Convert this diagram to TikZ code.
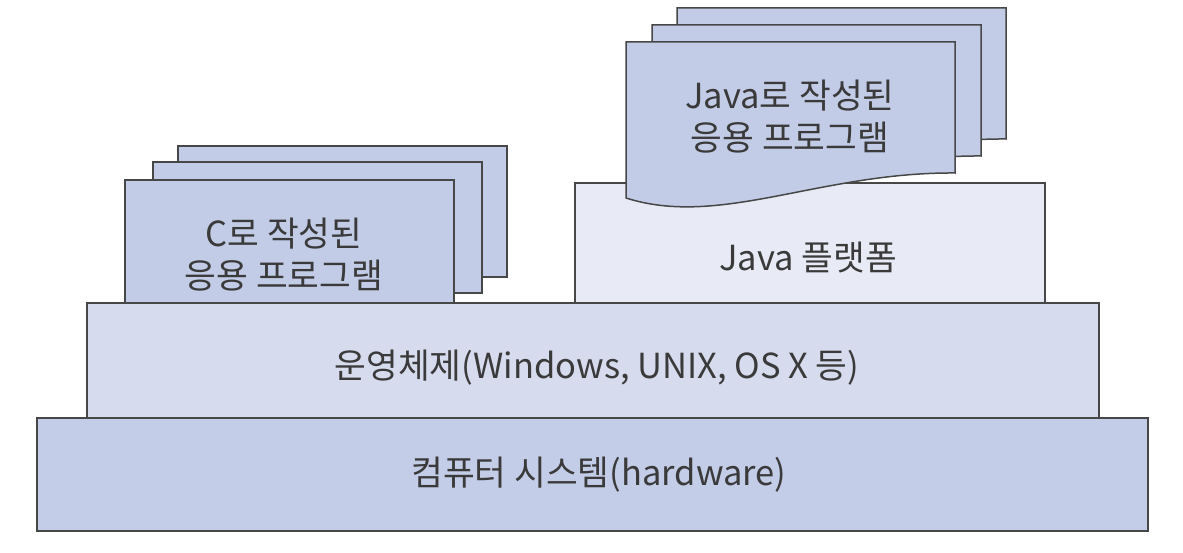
\documentclass[tikz,border=0pt]{standalone}
\usepackage{fontspec}
\setmainfont{Noto Sans CJK KR}
\definecolor{pagefill}{HTML}{C2CCE7}
\definecolor{hwfill}{HTML}{C3CDE8}
\definecolor{osfill}{HTML}{D6DBEE}
\definecolor{jvfill}{HTML}{E8EAF5}
\definecolor{edge}{HTML}{474747}
\definecolor{ink}{HTML}{3A3A3A}
\begin{document}
\begin{tikzpicture}[x=1pt,y=-1pt,line width=2.2pt,
  layer/.style={draw=edge,fill=#1},
  page/.style={draw=edge,line width=1.5pt,fill=pagefill},
  label/.style={text=ink,font=\fontsize{34.5}{42}\selectfont,align=center}]
\useasboundingbox (0,0) rectangle (1183,553);
% C pages
\foreach \dx/\dy in {53/-34,28/-18,0/0}
  \draw[page] (125+\dx,180+\dy) rectangle (454+\dx,311+\dy);
\node[label] (capp) at (284,255) {C로 작성된\\응용 프로그램};
% Java platform
\draw[layer=jvfill] (575,183) rectangle (1045,303);
\node[label] (jplat) at (808,258) {Java 플랫폼};
% Java pages
\foreach \dx/\dy in {51/-34,26/-17,0/0}
  \draw[page] (626+\dx,42+\dy) -- (955+\dx,42+\dy) -- (955+\dx,173+\dy)
    .. controls (820+\dx,172+\dy) and (720+\dx,228+\dy) .. (626+\dx,198+\dy) -- cycle;
\node[label] (japp) at (790,117) {Java로 작성된\\응용 프로그램};
% OS and hardware
\draw[layer=osfill] (87,303) rectangle (1099,418);
\node[label] (os) at (597,368) {운영체제(Windows, UNIX, OS X 등)};
\draw[layer=hwfill] (37,418) rectangle (1148,531);
\node[label] (hw) at (599,475) {컴퓨터 시스템(hardware)};
\end{tikzpicture}
\end{document}
